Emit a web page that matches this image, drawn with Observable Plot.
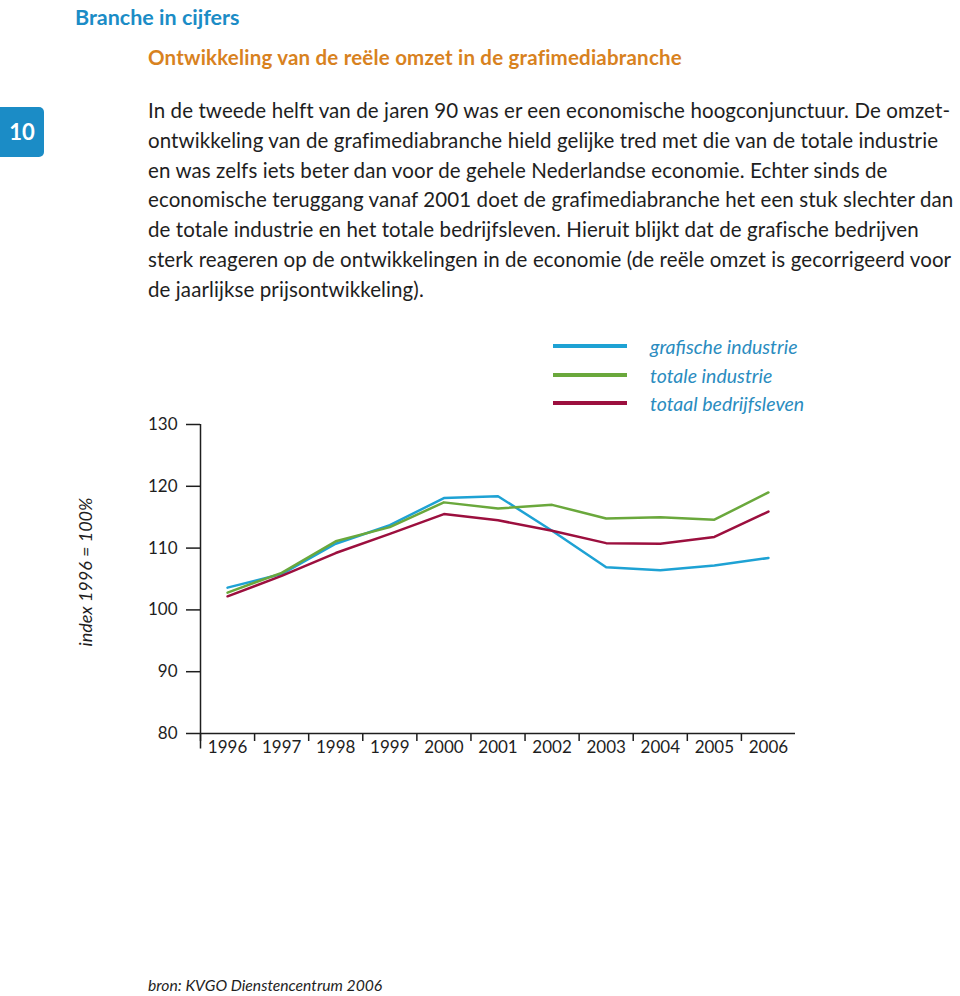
<!DOCTYPE html>
<html><head><meta charset="utf-8">
<script src="https://cdn.jsdelivr.net/npm/d3@7"></script>
<script src="https://cdn.jsdelivr.net/npm/@observablehq/plot@0.6"></script>
<style>
body{margin:0;background:#fff;font-family:Lato,"Open Sans",sans-serif;color:#1e1e1e;}
#page{position:relative;width:960px;height:996px;overflow:hidden;}
.abs{position:absolute;white-space:nowrap;}
#chart{position:absolute;left:0;top:330px;}
.leg{position:absolute;left:553px;display:flex;align-items:center;}
.leg span.sw{display:inline-block;width:74px;height:4px;margin-right:23px;}
.leg span.lb{font-style:italic;font-size:19.5px;color:#2a8cc0;}
</style></head><body><div id="page">
<div class="abs" id="head" style="left:75px;top:4px;font-weight:700;font-size:21.5px;color:#1b8cc6;"></div>
<div class="abs" id="sub" style="left:148px;top:45px;font-weight:700;font-size:20.5px;color:#d8821f;letter-spacing:0.2px;"></div>
<div class="abs" id="num" style="left:0;top:107px;width:44px;height:50px;background:#1b8cc6;border-radius:0 5px 5px 0;color:#fff;font-weight:700;font-size:22px;line-height:50px;text-align:center;"></div>
<div class="abs" id="body" style="left:148px;top:96px;font-size:20.5px;line-height:29.8px;letter-spacing:0.1px;"></div>
<div id="legend"></div>
<div class="abs" id="ylab" style="left:85px;top:572px;font-style:italic;font-size:18px;transform:translate(-50%,-50%) rotate(-90deg);"></div>
<div id="chart"></div>
<div class="abs" id="cap" style="left:148px;top:976px;font-style:italic;font-size:15.7px;line-height:18px;"></div>
</div>
<script>
const headTitle = "Branche in cijfers";
const subTitle = "Ontwikkeling van de reële omzet in de grafimediabranche";
const chapterNumber = "10";
const bodyLines = [
  "In de tweede helft van de jaren 90 was er een economische hoogconjunctuur. De omzet-",
  "ontwikkeling van de grafimediabranche hield gelijke tred met die van de totale industrie",
  "en was zelfs iets beter dan voor de gehele Nederlandse economie. Echter sinds de",
  "economische teruggang vanaf 2001 doet de grafimediabranche het een stuk slechter dan",
  "de totale industrie en het totale bedrijfsleven. Hieruit blijkt dat de grafische bedrijven",
  "sterk reageren op de ontwikkelingen in de economie (de reële omzet is gecorrigeerd voor",
  "de jaarlijkse prijsontwikkeling)."
];
const yLabel = "index 1996 = 100%";
const caption = "bron: KVGO Dienstencentrum 2006";

const years = [1996,1997,1998,1999,2000,2001,2002,2003,2004,2005,2006];
const grafischeIndustrie = [103.6,105.8,110.7,113.7,118.1,118.4,112.8,106.9,106.4,107.2,108.4];
const totaleIndustrie   = [102.8,106.0,111.1,113.4,117.4,116.4,117.0,114.8,115.0,114.6,119.0];
const totaalBedrijfsleven = [102.2,105.5,109.2,112.3,115.5,114.5,112.8,110.8,110.7,111.8,115.9];
const seriesNames = ["grafische industrie","totale industrie","totaal bedrijfsleven"];
const seriesColors = ["#1ea2d4","#6aa83c","#9c0f3e"];
const yTicks = [80,90,100,110,120,130];

document.getElementById("head").textContent = headTitle;
document.getElementById("sub").textContent = subTitle;
document.getElementById("num").textContent = chapterNumber;
document.getElementById("body").innerHTML = bodyLines.map(l => `<div>${l}</div>`).join("");
document.getElementById("ylab").textContent = yLabel;
document.getElementById("cap").textContent = caption;
const legTops = [346, 375, 403];
document.getElementById("legend").innerHTML = seriesNames.map((n,i) =>
  `<div class="leg" style="top:${legTops[i]-13}px;height:26px;"><span class="sw" style="background:${seriesColors[i]}"></span><span class="lb">${n}</span></div>`).join("");

const seriesValues = [grafischeIndustrie, totaleIndustrie, totaalBedrijfsleven];
const data = seriesNames.flatMap((s, k) => years.map((yr, i) => ({year: yr, value: seriesValues[k][i], series: s})));
const yearEdges = years.map(y => y - 0.5);
const xMin = years[0] - 0.5, xMax = years[years.length - 1] + 0.5;

const chart = Plot.plot({
  width: 960, height: 440,
  marginTop: 94, marginBottom: 37, marginLeft: 200, marginRight: 165,
  style: {fontFamily: "Lato, sans-serif", fontSize: "17px", color: "#1e1e1e", background: "transparent", overflow: "visible"},
  x: {type: "linear", domain: [xMin, xMax], axis: null},
  y: {domain: [yTicks[0], yTicks[yTicks.length - 1]], axis: null},
  color: {domain: seriesNames, range: seriesColors},
  marks: [
    Plot.axisY({ticks: yTicks, tickSize: 14, tickPadding: 9, tickFormat: d => String(d), label: null, strokeWidth: 1.5}),
    Plot.axisX({ticks: yearEdges, tickSize: 8, tickFormat: () => "", label: null, strokeWidth: 1.5}),
    Plot.axisX({ticks: years, tickSize: 0, tickPadding: 7, tickFormat: d => String(d), label: null}),
    Plot.ruleY([yTicks[0]], {x1: xMin, x2: xMax, stroke: "#1e1e1e", strokeWidth: 1.5}),
    Plot.ruleX([xMin], {y1: yTicks[yTicks.length - 1], y2: yTicks[0] - 2.5, stroke: "#1e1e1e", strokeWidth: 1.5, clip: false}),
    Plot.line(data, {x: "year", y: "value", z: "series", stroke: "series", strokeWidth: 2.5})
  ]
});
document.getElementById("chart").appendChild(chart);
</script>
</body></html>
